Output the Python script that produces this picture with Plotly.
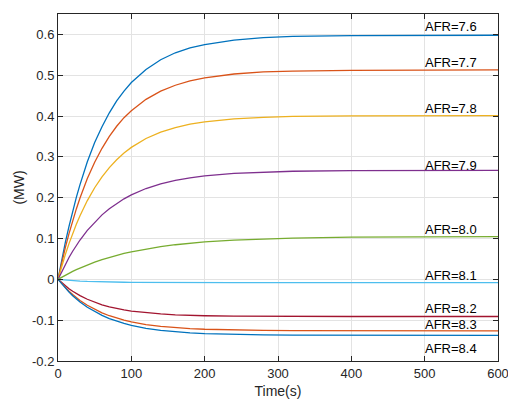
import plotly.graph_objects as go

t = [0, 5, 10, 15, 20, 25, 30, 40, 50, 60, 70, 80, 90, 100, 120, 140, 160, 180,
     200, 240, 280, 320, 400, 500, 600]

afr_labels = ["AFR=7.6", "AFR=7.7", "AFR=7.8", "AFR=7.9", "AFR=8.0",
              "AFR=8.1", "AFR=8.2", "AFR=8.3", "AFR=8.4"]

p76 = [0, 0.047, 0.0905, 0.130, 0.167, 0.201, 0.232, 0.288, 0.335, 0.374, 0.408, 0.437, 0.461,
       0.482, 0.514, 0.538, 0.555, 0.567, 0.575, 0.586, 0.592, 0.595, 0.597, 0.598, 0.598]
p77 = [0, 0.0404, 0.0776, 0.112, 0.1434, 0.1725, 0.1994, 0.2468, 0.287, 0.321, 0.350, 0.375, 0.396,
       0.413, 0.441, 0.461, 0.4755, 0.486, 0.4935, 0.503, 0.508, 0.510, 0.512, 0.513, 0.513]
p78 = [0, 0.0316, 0.0607, 0.0875, 0.1121, 0.1349, 0.1558, 0.193, 0.2244, 0.2511, 0.2738, 0.293, 0.3093,
       0.3232, 0.345, 0.3605, 0.3718, 0.380, 0.386, 0.393, 0.397, 0.399, 0.4004, 0.401, 0.401]
p79 = [0, 0.0192, 0.037, 0.0536, 0.0689, 0.0831, 0.0964, 0.120, 0.1404, 0.158, 0.1731, 0.1861, 0.1973,
       0.207, 0.2225, 0.234, 0.2425, 0.2488, 0.2535, 0.2596, 0.2629, 0.2648, 0.2663, 0.2669, 0.267]
p80 = [0, 0.0053, 0.0103, 0.015, 0.0196, 0.0239, 0.0279, 0.0355, 0.0423, 0.0484, 0.054, 0.059, 0.0635,
       0.0675, 0.0745, 0.0802, 0.0848, 0.0886, 0.0916, 0.0962, 0.0992, 0.1011, 0.1033, 0.1044, 0.1048]
p81 = [0, -0.0009, -0.0018, -0.0025, -0.0031, -0.0037, -0.0042, -0.0051, -0.0058, -0.0062, -0.0066,
       -0.0069, -0.0071, -0.0073, -0.0076, -0.0078, -0.0079, -0.0079, -0.0079, -0.008, -0.008, -0.008,
       -0.008, -0.008, -0.008]
p82 = [0, -0.0083, -0.0159, -0.0228, -0.0291, -0.0347, -0.0399, -0.0488, -0.0562, -0.0623, -0.0673,
       -0.0715, -0.0749, -0.0777, -0.0819, -0.0848, -0.0868, -0.0881, -0.0891, -0.0901, -0.0906,
       -0.0908, -0.091, -0.091, -0.091]
p83 = [0, -0.0106, -0.0203, -0.0292, -0.0373, -0.0447, -0.0516, -0.0635, -0.0736, -0.082, -0.0891,
       -0.095, -0.100, -0.1042, -0.1107, -0.1152, -0.1184, -0.1206, -0.1222, -0.1241, -0.1251,
       -0.1255, -0.1259, -0.126, -0.126]
p84 = [0, -0.0113, -0.0217, -0.0313, -0.040, -0.048, -0.0554, -0.0684, -0.0793, -0.0884, -0.0962,
       -0.1027, -0.1081, -0.1127, -0.1199, -0.125, -0.1285, -0.131, -0.1328, -0.135, -0.1361,
       -0.1367, -0.1371, -0.1372, -0.1372]

series = [p76, p77, p78, p79, p80, p81, p82, p83, p84]
colors = ["#0072BD", "#D95319", "#EDB120", "#7E2F8E", "#77AC30",
          "#4DBEEE", "#A2142F", "#D95319", "#0072BD"]

label_x = 498
label_y = [0.619, 0.530, 0.419, 0.280, 0.121, 0.0085, -0.071, -0.1095, -0.170]

x_ticks = [0, 100, 200, 300, 400, 500, 600]
y_ticks = [-0.2, -0.1, 0, 0.1, 0.2, 0.3, 0.4, 0.5, 0.6]
y_ticktext = ["-0.2", "-0.1", "0", "0.1", "0.2", "0.3", "0.4", "0.5", "0.6"]

FONT = "Liberation Sans, Arial, Helvetica, sans-serif"
AX = "#262626"

fig = go.Figure()
for name, ys, c in zip(afr_labels, series, colors):
    fig.add_trace(go.Scatter(x=t, y=ys, mode="lines", name=name,
                             line=dict(color=c, width=1.3),
                             showlegend=False, hoverinfo="skip"))

for name, ly in zip(afr_labels, label_y):
    fig.add_annotation(x=label_x, y=ly, text=name, showarrow=False,
                       xanchor="left", yanchor="middle", xref="x", yref="y",
                       font=dict(family=FONT, size=13, color="#000000"))

axis_common = dict(showline=True, linecolor=AX, linewidth=1, mirror="ticks",
                   ticks="inside", ticklen=5, tickcolor=AX, tickwidth=1,
                   showgrid=True, gridcolor="#e3e3e3", gridwidth=1, zeroline=False,
                   automargin=False, ticklabeloverflow="allow",
                   tickfont=dict(family=FONT, size=13, color=AX))

fig.update_xaxes(range=[0, 600], tickvals=x_ticks,
                 ticktext=[str(v) for v in x_ticks],
                 title=dict(text="Time(s)", font=dict(family=FONT, size=14, color=AX), standoff=6),
                 **axis_common)
fig.update_yaxes(range=[-0.2, 0.65], tickvals=y_ticks, ticktext=y_ticktext,
                 title=dict(text="(MW)", font=dict(family=FONT, size=14, color=AX), standoff=4),
                 **axis_common)

fig.update_layout(width=508, height=401,
                  margin=dict(l=58, r=10, t=14, b=40),
                  paper_bgcolor="white", plot_bgcolor="white")

fig.write_html("out.html", config={"displayModeBar": False},
               post_script="document.body.style.margin='0px';document.body.style.overflow='hidden';")
